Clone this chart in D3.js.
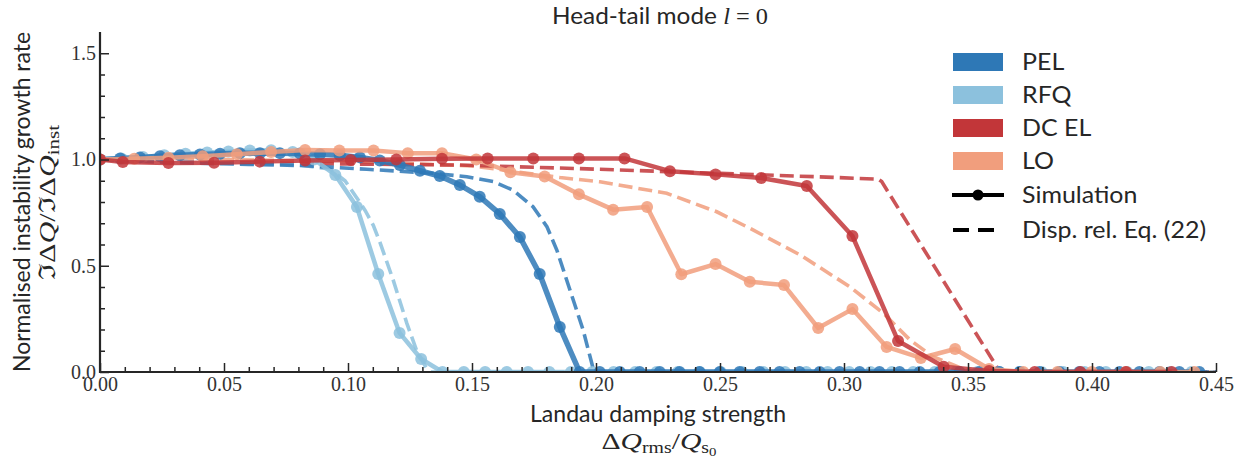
<!DOCTYPE html>
<html><head><meta charset="utf-8">
<script src="https://cdn.jsdelivr.net/npm/d3@7"></script>
<style>body{margin:0;background:#fff}</style>
</head><body>
<svg id="c" width="1251" height="459"></svg>
<script>
// ---------- data ----------
const seriesNames = ["PEL", "RFQ", "DC EL", "LO"];
const xTicks = [0, 0.05, 0.10, 0.15, 0.20, 0.25, 0.30, 0.35, 0.40, 0.45];
const yTicks = [0.0, 0.5, 1.0, 1.5];

// Simulation (solid with markers)
const pelX = [0, 0.0081, 0.0161, 0.0242, 0.0322, 0.0403, 0.0484, 0.0564, 0.0645, 0.0725, 0.0806, 0.0887, 0.0967, 0.1048, 0.1128, 0.1209, 0.1290, 0.1370, 0.1451, 0.1531, 0.1612, 0.1693, 0.1773, 0.1854, 0.1934, 0.2015, 0.2096, 0.2176, 0.2257, 0.2337, 0.2418, 0.2499, 0.2579, 0.2660, 0.2740, 0.2821, 0.2902, 0.2982, 0.3063, 0.3143, 0.3224, 0.3305, 0.3385, 0.3466, 0.3546, 0.3627, 0.3708, 0.3788, 0.3869, 0.3949, 0.4030, 0.4111, 0.4191, 0.4272, 0.4352, 0.4433];
const pelSim = [1.0, 1.005, 1.01, 1.015, 1.02, 1.024, 1.027, 1.03, 1.03, 1.03, 1.028, 1.025, 1.02, 1.01, 0.995, 0.974, 0.947, 0.922, 0.88, 0.825, 0.744, 0.635, 0.461, 0.212, 0, 0, 0, 0, 0, 0, 0, 0, 0, 0, 0, 0, 0, 0, 0, 0, 0, 0, 0, 0, 0, 0, 0, 0, 0, 0, 0, 0, 0, 0, 0, 0];

const rfqX = [0, 0.0086, 0.0173, 0.0259, 0.0345, 0.0432, 0.0518, 0.0604, 0.0690, 0.0777, 0.0863, 0.0949, 0.1036, 0.1122, 0.1208, 0.1295, 0.1381, 0.1467, 0.1553, 0.1640, 0.1726, 0.1812, 0.1899, 0.1985, 0.2071, 0.2158, 0.2244, 0.2330, 0.2416, 0.2503, 0.2589, 0.2675, 0.2762, 0.2848, 0.2934, 0.3021, 0.3107, 0.3193, 0.3279, 0.3366, 0.3452, 0.3538, 0.3625, 0.3711, 0.3797, 0.3884, 0.3970, 0.4056, 0.4142, 0.4229, 0.4315, 0.4401];
const rfqSim = [1.0, 1.005, 1.012, 1.02, 1.027, 1.033, 1.038, 1.042, 1.043, 1.035, 1.0, 0.927, 0.776, 0.461, 0.184, 0.061, 0, 0, 0, 0, 0, 0, 0, 0, 0, 0, 0, 0, 0, 0, 0, 0, 0, 0, 0, 0, 0, 0, 0, 0, 0, 0, 0, 0, 0, 0, 0, 0, 0, 0, 0, 0];

const dcelX = [0, 0.0092, 0.0276, 0.0460, 0.0644, 0.0827, 0.1011, 0.1195, 0.1379, 0.1563, 0.1747, 0.1931, 0.2115, 0.2298, 0.2482, 0.2666, 0.2850, 0.3034, 0.3218, 0.3402, 0.3585, 0.3769, 0.3953, 0.4137, 0.4321];
const dcelSim = [1.0, 0.988, 0.983, 0.985, 0.99, 0.995, 0.998, 1.0, 1.003, 1.005, 1.005, 1.005, 1.005, 0.945, 0.93, 0.913, 0.875, 0.64, 0.146, 0.025, 0.005, 0, 0, 0, 0];

const loX = [0, 0.0138, 0.0276, 0.0414, 0.0552, 0.0690, 0.0827, 0.0965, 0.1103, 0.1241, 0.1379, 0.1517, 0.1655, 0.1793, 0.1931, 0.2069, 0.2206, 0.2344, 0.2482, 0.2620, 0.2758, 0.2896, 0.3034, 0.3172, 0.3310, 0.3448, 0.3585, 0.3723, 0.3861, 0.3999, 0.4137, 0.4275, 0.4413];
const loSim = [1.0, 1.003, 1.008, 1.015, 1.025, 1.035, 1.045, 1.042, 1.042, 1.03, 1.03, 1.0, 0.94, 0.92, 0.836, 0.764, 0.776, 0.46, 0.508, 0.425, 0.409, 0.207, 0.296, 0.118, 0.066, 0.108, 0.014, 0, 0, 0, 0, 0, 0];

// Dispersion relation Eq. (22) (dashed)
const pelDispX = [0, 0.03, 0.06, 0.0806, 0.1076, 0.1343, 0.1479, 0.1585, 0.1665, 0.1746, 0.1802, 0.1842, 0.1895, 0.1948, 0.1983, 0.1992, 0.45];
const pelDisp = [1.0, 0.985, 0.977, 0.972, 0.954, 0.935, 0.919, 0.896, 0.856, 0.778, 0.684, 0.574, 0.386, 0.198, 0.041, 0, 0];

const rfqDispX = [0, 0.03, 0.06, 0.08, 0.0927, 0.0988, 0.1035, 0.1069, 0.1102, 0.1129, 0.1183, 0.1237, 0.1277, 0.1315, 0.1335, 0.45];
const rfqDisp = [1.0, 0.99, 0.98, 0.975, 0.955, 0.90, 0.82, 0.76, 0.69, 0.61, 0.43, 0.23, 0.10, 0.02, 0, 0];

const dcelDispX = [0, 0.02, 0.07, 0.145, 0.2016, 0.2285, 0.2688, 0.2956, 0.3138, 0.3152, 0.3629, 0.45];
const dcelDisp = [1.0, 0.99, 0.982, 0.974, 0.954, 0.943, 0.927, 0.916, 0.907, 0.896, 0, 0];

const loDispX = [0, 0.05, 0.1, 0.15, 0.1855, 0.2016, 0.2285, 0.2487, 0.2621, 0.2823, 0.3024, 0.3159, 0.3266, 0.3359, 0.3468, 0.353, 0.45];
const loDisp = [1.0, 1.0, 0.99, 0.97, 0.915, 0.895, 0.841, 0.754, 0.676, 0.551, 0.401, 0.276, 0.151, 0.072, 0.02, 0, 0];

// ---------- chart ----------
const colors = {"PEL": "#2e78b6", "RFQ": "#8cc1dd", "DC EL": "#c23639", "LO": "#f19e7d"};
const series = [
  {name: "PEL", x: pelX, y: pelSim, dx: pelDispX, dy: pelDisp, lw: 5.5},
  {name: "RFQ", x: rfqX, y: rfqSim, dx: rfqDispX, dy: rfqDisp, lw: 4.5},
  {name: "DC EL", x: dcelX, y: dcelSim, dx: dcelDispX, dy: dcelDisp, lw: 4.5},
  {name: "LO", x: loX, y: loSim, dx: loDispX, dy: loDisp, lw: 4.5}
];
const byName = Object.fromEntries(series.map(s => [s.name, s]));

const svg = d3.select("#c");
const L = 100, R = 1216, T = 32, B = 372;
const x = d3.scaleLinear().domain([0, 0.45]).range([L, R]);
const y = d3.scaleLinear().domain([0, 1.6]).range([B, T]);
const ink = "#262626";
const sans = "Lato, 'Open Sans', sans-serif";
const serif = "'Liberation Serif', 'DejaVu Serif', serif";

// fit a text element to a target width (keeps it as real text)
function fit(sel, w) {
  const n = sel.node();
  const cur = n.getComputedTextLength();
  if (cur > 0) sel.attr("textLength", w).attr("lengthAdjust", "spacingAndGlyphs");
  return sel;
}

svg.append("defs").append("clipPath").attr("id", "clip")
  .append("rect").attr("x", L).attr("y", T).attr("width", R - L).attr("height", B - T);

const plot = svg.append("g").attr("clip-path", "url(#clip)");
const line = d3.line().x(d => x(d[0])).y(d => y(d[1]));

// dashed theory curves
["LO", "DC EL", "RFQ", "PEL"].forEach(n => {
  const s = byName[n];
  plot.append("path")
    .attr("d", line(s.dx.map((v, i) => [v, s.dy[i]])))
    .attr("fill", "none").attr("stroke", colors[n]).attr("stroke-width", 3.6)
    .attr("stroke-dasharray", "14,6").attr("opacity", 0.85);
});
// simulation curves
["RFQ", "PEL", "LO", "DC EL"].forEach(n => {
  const s = byName[n];
  const pts = s.x.map((v, i) => [v, s.y[i]]);
  const g = plot.append("g");
  g.append("path").attr("d", line(pts))
    .attr("fill", "none").attr("stroke", colors[n]).attr("stroke-width", s.lw)
    .attr("stroke-linejoin", "round").attr("opacity", 0.85);
  g.selectAll("circle").data(pts).join("circle")
    .attr("cx", d => x(d[0])).attr("cy", d => y(d[1])).attr("r", 6)
    .attr("fill", colors[n]).attr("opacity", 0.85);
});

// axes
const minorX = d3.range(0, 46).map(i => i / 100).filter(v => !xTicks.some(t => Math.abs(t - v) < 1e-9));
const minorY = d3.range(0, 16).map(i => i / 10).filter(v => !yTicks.some(t => Math.abs(t - v) < 1e-9));

const xa = svg.append("g").attr("transform", `translate(0,${B})`)
  .call(d3.axisBottom(x).tickValues(xTicks).tickFormat(d3.format(".2f")).tickSize(-9).tickPadding(5));
const xm = svg.append("g").attr("transform", `translate(0,${B})`)
  .call(d3.axisBottom(x).tickValues(minorX).tickFormat("").tickSize(-5));
const ya = svg.append("g").attr("transform", `translate(${L},0)`)
  .call(d3.axisLeft(y).tickValues(yTicks).tickFormat(d3.format(".1f")).tickSize(-9).tickPadding(4));
const ym = svg.append("g").attr("transform", `translate(${L},0)`)
  .call(d3.axisLeft(y).tickValues(minorY).tickFormat("").tickSize(-5));
[xa, xm, ya, ym].forEach(g => {
  g.select(".domain").remove();
  g.selectAll("line").attr("stroke", ink).attr("stroke-width", 1.5);
  g.selectAll("text").attr("font-family", serif).attr("font-size", 20).attr("fill", "#333");
});
svg.append("line").attr("x1", L).attr("x2", R).attr("y1", B).attr("y2", B).attr("stroke", ink).attr("stroke-width", 2.2);
svg.append("line").attr("x1", L).attr("x2", L).attr("y1", T).attr("y2", B + 1.1).attr("stroke", ink).attr("stroke-width", 2.2);

// title
const title = svg.append("text").attr("x", 660).attr("y", 23.5).attr("text-anchor", "middle")
  .attr("font-family", sans).attr("font-size", 24).attr("fill", ink);
title.append("tspan").text("Head-tail mode ");
title.append("tspan").attr("font-family", serif).attr("font-style", "italic").text("l");
title.append("tspan").attr("font-family", serif).text(" = 0");
fit(title, 216);

// x label
fit(svg.append("text").attr("x", 658).attr("y", 422).attr("text-anchor", "middle")
  .attr("font-family", sans).attr("font-size", 24).attr("fill", ink).text("Landau damping strength"), 256);
const xl2 = svg.append("text").attr("x", 659).attr("y", 449).attr("text-anchor", "middle")
  .attr("font-family", serif).attr("font-size", 24).attr("fill", ink);
xl2.append("tspan").text("Δ");
xl2.append("tspan").attr("font-style", "italic").text("Q");
xl2.append("tspan").attr("font-size", 16).attr("dy", 4).text("rms");
xl2.append("tspan").attr("dy", -4).text("/");
xl2.append("tspan").attr("font-style", "italic").text("Q");
xl2.append("tspan").attr("font-size", 16).attr("dy", 4).text("s");
xl2.append("tspan").attr("font-size", 12).attr("dy", 3).text("0");
fit(xl2, 115);

// y label
fit(svg.append("text").attr("transform", "translate(29.5,202) rotate(-90)").attr("text-anchor", "middle")
  .attr("font-family", sans).attr("font-size", 24).attr("fill", ink).text("Normalised instability growth rate"), 340);
const yl2 = svg.append("text").attr("transform", "translate(55,202.5) rotate(-90)").attr("text-anchor", "middle")
  .attr("font-family", serif).attr("font-size", 23).attr("fill", ink);
yl2.append("tspan").text("ℑΔ");
yl2.append("tspan").attr("font-style", "italic").text("Q");
yl2.append("tspan").text("/ℑΔ");
yl2.append("tspan").attr("font-style", "italic").text("Q");
yl2.append("tspan").attr("font-size", 16).attr("dy", 4).text("inst");
fit(yl2, 155);

// legend
const lg = svg.append("g");
const lx = 953, lw = 50, tx = 1022;
const rows = [62, 95, 128, 161, 195, 230];
const legFont = 24, legScale = 185 / 178;
function legText(yy, s) {
  const t = lg.append("text").attr("x", tx).attr("y", yy + 8).attr("font-family", sans)
    .attr("font-size", legFont).attr("fill", ink).text(s);
  const w = t.node().getComputedTextLength();
  t.attr("textLength", w * legScale).attr("lengthAdjust", "spacingAndGlyphs");
}
seriesNames.forEach((n, i) => {
  lg.append("rect").attr("x", lx).attr("y", rows[i] - 9).attr("width", lw).attr("height", 18).attr("fill", colors[n]);
  legText(rows[i], n);
});
lg.append("line").attr("x1", lx - 1).attr("x2", lx + lw + 1).attr("y1", rows[4]).attr("y2", rows[4]).attr("stroke", "#000").attr("stroke-width", 4);
lg.append("circle").attr("cx", lx + lw / 2).attr("cy", rows[4]).attr("r", 5.5).attr("fill", "#000");
legText(rows[4], "Simulation");
lg.append("line").attr("x1", lx).attr("x2", lx + lw).attr("y1", rows[5]).attr("y2", rows[5]).attr("stroke", "#000").attr("stroke-width", 4).attr("stroke-dasharray", "16,9");
legText(rows[5], "Disp. rel. Eq. (22)");
</script>
</body></html>
